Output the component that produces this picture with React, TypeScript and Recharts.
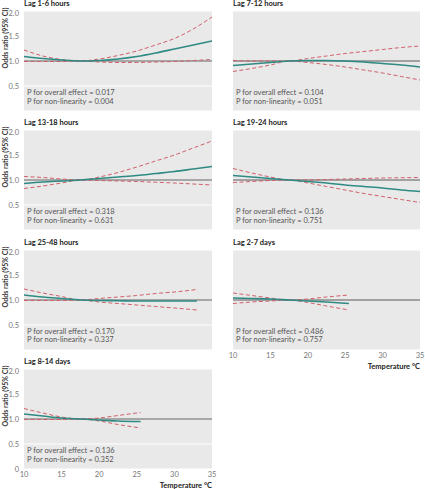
import { CartesianGrid, Line, LineChart, ReferenceLine, XAxis, YAxis } from "recharts";

// temperature grids (°C)
const TEMPS_FULL = [10, 12.5, 15, 17.5, 20, 22.5, 25, 27.5, 30, 32.5, 35];
const TEMPS_LAG25 = [10, 12.5, 15, 17.5, 20, 22.5, 25, 27.5, 30, 33];
const TEMPS_SHORT = [10, 12.5, 15, 17.5, 20, 22.5, 25.5];

// odds ratios with 95% CI
const LAG1_OR = [1.09, 1.05, 1.02, 1.0, 1.01, 1.04, 1.09, 1.16, 1.24, 1.32, 1.4];
const LAG1_HI = [1.22, 1.1, 1.03, 1.0, 1.04, 1.11, 1.2, 1.32, 1.45, 1.64, 1.88];
const LAG1_LO = [0.99, 0.99, 0.99, 1.0, 0.98, 0.97, 0.97, 0.98, 0.99, 1.01, 1.03];

const LAG7_OR = [0.91, 0.94, 0.97, 1.0, 1.01, 1.01, 1.0, 0.98, 0.95, 0.92, 0.88];
const LAG7_HI = [1.01, 1.0, 1.0, 1.0, 1.05, 1.1, 1.15, 1.19, 1.23, 1.27, 1.3];
const LAG7_LO = [0.79, 0.85, 0.92, 1.0, 0.97, 0.93, 0.88, 0.82, 0.76, 0.69, 0.62];

const LAG13_OR = [0.93, 0.96, 0.98, 1.0, 1.03, 1.06, 1.09, 1.13, 1.17, 1.22, 1.27];
const LAG13_HI = [1.07, 1.05, 1.02, 1.0, 1.06, 1.15, 1.26, 1.38, 1.5, 1.64, 1.78];
const LAG13_LO = [0.83, 0.88, 0.94, 1.0, 0.99, 0.98, 0.97, 0.955, 0.94, 0.92, 0.9];

const LAG19_OR = [1.09, 1.06, 1.03, 1.0, 0.97, 0.94, 0.9, 0.87, 0.84, 0.8, 0.77];
const LAG19_HI = [1.23, 1.14, 1.06, 1.0, 1.0, 1.01, 1.02, 1.03, 1.04, 1.045, 1.05];
const LAG19_LO = [0.95, 0.97, 0.99, 1.0, 0.94, 0.87, 0.8, 0.73, 0.67, 0.61, 0.55];

const LAG25_OR = [1.1, 1.06, 1.03, 1.0, 0.99, 0.985, 0.98, 0.98, 0.98, 0.98];
const LAG25_HI = [1.22, 1.14, 1.07, 1.0, 1.03, 1.06, 1.09, 1.13, 1.16, 1.21];
const LAG25_LO = [0.99, 0.99, 0.99, 1.0, 0.96, 0.93, 0.9, 0.87, 0.84, 0.8];

const LAG2D_OR = [1.04, 1.03, 1.02, 1.0, 0.98, 0.96, 0.93];
const LAG2D_HI = [1.14, 1.09, 1.04, 1.0, 1.02, 1.06, 1.1];
const LAG2D_LO = [0.93, 0.96, 0.98, 1.0, 0.95, 0.88, 0.8];

const LAG8D_OR = [1.1, 1.06, 1.02, 1.0, 0.98, 0.96, 0.95];
const LAG8D_HI = [1.21, 1.12, 1.04, 1.0, 1.02, 1.07, 1.13];
const LAG8D_LO = [0.99, 0.99, 0.99, 1.0, 0.96, 0.89, 0.82];

const TITLES = [
  "Lag 1-6 hours",
  "Lag 7-12 hours",
  "Lag 13-18 hours",
  "Lag 19-24 hours",
  "Lag 25-48 hours",
  "Lag 2-7 days",
  "Lag 8-14 days",
];
const P_OVERALL = ["0.017", "0.104", "0.318", "0.136", "0.170", "0.486", "0.136"];
const P_NONLIN = ["0.004", "0.051", "0.631", "0.751", "0.337", "0.757", "0.352"];

const X_TICKS = [10, 15, 20, 25, 30, 35];
const Y_TICKS = [0, 0.5, 1, 1.5, 2];

const GREEN = "#2f8a84";
const RED = "#d0606a";
const BG = "#e9e9e9";

const ROW_TOPS = [11, 130.3, 249.6, 369];
const PLOT_H = 100;

const build = (temps: number[], or: number[], lo: number[], hi: number[]) =>
  temps.map((t, i) => ({ t, or: or[i], lo: lo[i], hi: hi[i] }));

const PANEL_DATA = [
  build(TEMPS_FULL, LAG1_OR, LAG1_LO, LAG1_HI),
  build(TEMPS_FULL, LAG7_OR, LAG7_LO, LAG7_HI),
  build(TEMPS_FULL, LAG13_OR, LAG13_LO, LAG13_HI),
  build(TEMPS_FULL, LAG19_OR, LAG19_LO, LAG19_HI),
  build(TEMPS_LAG25, LAG25_OR, LAG25_LO, LAG25_HI),
  build(TEMPS_SHORT, LAG2D_OR, LAG2D_LO, LAG2D_HI),
  build(TEMPS_SHORT, LAG8D_OR, LAG8D_LO, LAG8D_HI),
];

function Panel({ index }: { index: number }) {
  const col = index % 2;
  const row = Math.floor(index / 2);
  const plotTop = ROW_TOPS[row];
  const showX = index === 5 || index === 6;
  const isLeft = col === 0;
  const chartLeft = isLeft ? 0 : 225;
  const chartWidth = isLeft ? 220 : 200;
  const plotLeft = isLeft ? 24 : 233;
  const plotRight = isLeft ? 212 : 420;
  const bottom = showX ? 16 : 2;

  return (
    <>
      <div
        style={{
          position: "absolute",
          left: plotLeft,
          top: plotTop - 12,
          fontSize: 7.5,
          fontWeight: 700,
          color: "#222",
          lineHeight: "10px",
          whiteSpace: "nowrap",
        }}
      >
        {TITLES[index]}
      </div>
      {isLeft && (
        <div
          style={{
            position: "absolute",
            left: 5,
            top: plotTop + 27,
            transform: "translate(-50%, -50%) rotate(-90deg)",
            fontSize: 7,
            fontWeight: 700,
            color: "#333",
            whiteSpace: "nowrap",
            lineHeight: "9px",
          }}
        >
          Odds ratio (95% CI)
        </div>
      )}
      <div style={{ position: "absolute", left: chartLeft, top: plotTop - 2 }}>
        <LineChart
          width={chartWidth}
          height={PLOT_H + 2 + bottom}
          data={PANEL_DATA[index]}
          margin={{ top: 2, right: isLeft ? 8 : 5, left: isLeft ? 0 : 8, bottom: showX ? 0 : 2 }}
        >
          <CartesianGrid fill={BG} stroke="#ffffff" strokeWidth={1.2} vertical={false} />
          <XAxis
            dataKey="t"
            type="number"
            domain={[10, 35]}
            ticks={X_TICKS}
            hide={!showX}
            height={showX ? 16 : 0}
            axisLine={false}
            tickLine={false}
            tickSize={0}
            tickMargin={3}
            tick={{ fontSize: 7.5, fill: "#777" }}
            allowDataOverflow
          />
          <YAxis
            domain={[0, 2]}
            ticks={Y_TICKS}
            width={isLeft ? 24 : 0}
            axisLine={false}
            tickLine={false}
            tickSize={0}
            tickMargin={5}
            tick={isLeft ? { fontSize: 7.5, fill: "#777" } : false}
            tickFormatter={(v: number) => (v === 0 ? "0" : v.toFixed(1))}
            allowDataOverflow
          />
          <ReferenceLine y={1} stroke="#5a5a5a" strokeWidth={1} />
          <Line
            dataKey="hi"
            type="monotone"
            stroke={RED}
            strokeWidth={1}
            strokeDasharray="4 2.5"
            dot={false}
            isAnimationActive={false}
          />
          <Line
            dataKey="lo"
            type="monotone"
            stroke={RED}
            strokeWidth={1}
            strokeDasharray="4 2.5"
            dot={false}
            isAnimationActive={false}
          />
          <Line
            dataKey="or"
            type="monotone"
            stroke={GREEN}
            strokeWidth={1.6}
            dot={false}
            isAnimationActive={false}
          />
        </LineChart>
      </div>
      <div
        style={{
          position: "absolute",
          left: plotLeft + 3,
          top: plotTop + 78,
          fontSize: 7.5,
          color: "#555",
          lineHeight: "8.7px",
          whiteSpace: "nowrap",
        }}
      >
        <div>P for overall effect = {P_OVERALL[index]}</div>
        <div>P for non-linearity = {P_NONLIN[index]}</div>
      </div>
      {showX && (
        <div
          style={{
            position: "absolute",
            left: plotRight - 80,
            width: 80,
            top: plotTop + PLOT_H + 12,
            textAlign: "right",
            fontSize: 7.5,
            fontWeight: 700,
            color: "#222",
            lineHeight: "10px",
          }}
        >
          Temperature °C
        </div>
      )}
    </>
  );
}

export default function App() {
  return (
    <div
      style={{
        position: "absolute",
        left: 0,
        top: 0,
        width: 425,
        height: 489,
        background: "#fff",
        fontFamily: "Lato, sans-serif",
        overflow: "hidden",
      }}
    >
      {TITLES.map((_, i) => (
        <Panel key={i} index={i} />
      ))}
    </div>
  );
}
